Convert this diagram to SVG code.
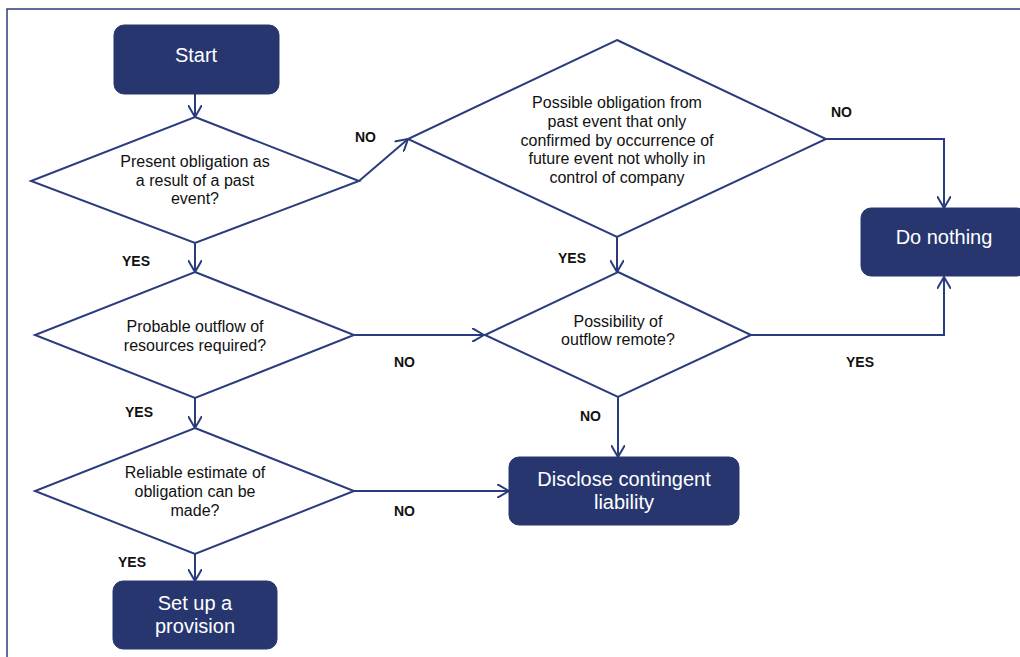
<svg xmlns="http://www.w3.org/2000/svg" width="1020" height="657" viewBox="0 0 1020 657">
<style>
.box{fill:#27366f;stroke:#27366f;stroke-width:1}
.dia{fill:#ffffff;stroke:#2b3c7e;stroke-width:2}
.wt{font-family:"Liberation Sans",Arial,sans-serif;font-size:20px;fill:#ffffff;text-anchor:middle}
.dt{font-family:"Liberation Sans",Arial,sans-serif;font-size:16px;fill:#111111;text-anchor:middle}
.lb{font-family:"Liberation Sans",Arial,sans-serif;font-size:14px;font-weight:bold;fill:#111111}
.ln{fill:none;stroke:#2b3c7e;stroke-width:2;marker-end:url(#ah)}
</style>
<defs>
<marker id="ah" viewBox="0 0 13 14" refX="12" refY="7" markerWidth="13" markerHeight="14" markerUnits="userSpaceOnUse" orient="auto">
<path d="M0,0 L12,7 L0,14" fill="none" stroke="#2b3c7e" stroke-width="2"/>
</marker>
</defs>
<rect width="1020" height="657" fill="#ffffff"/>
<rect x="7" y="9" width="1040" height="700" fill="none" stroke="#2b3c7e" stroke-width="1.5"/>

<g id="connectors">
<path class="ln" d="M195,94 L195,117"/>
<path class="ln" d="M359,181 L408,139"/>
<path class="ln" d="M195,243 L195,272"/>
<path class="ln" d="M617,237 L617,272"/>
<path class="ln" d="M826,139 L944,139 L944,208"/>
<path class="ln" d="M354,335 L484,335"/>
<path class="ln" d="M751,335 L944,335 L944,277"/>
<path class="ln" d="M618,397 L618,457"/>
<path class="ln" d="M195,398 L195,428"/>
<path class="ln" d="M354,491 L509,491"/>
<path class="ln" d="M195,554 L195,581"/>
</g>

<g id="labels">
<text class="lb" x="355" y="142">NO</text>
<text class="lb" x="831" y="117">NO</text>
<text class="lb" x="122" y="266">YES</text>
<text class="lb" x="558" y="263">YES</text>
<text class="lb" x="394" y="367">NO</text>
<text class="lb" x="846" y="367">YES</text>
<text class="lb" x="125" y="417">YES</text>
<text class="lb" x="580" y="421">NO</text>
<text class="lb" x="394" y="516">NO</text>
<text class="lb" x="118" y="567">YES</text>
</g>

<g id="start">
<rect class="box" x="114" y="25" width="165" height="69" rx="10"/>
<text class="wt" x="196" y="62">Start</text>
</g>

<g id="present-obligation">
<polygon class="dia" points="195,117 359,181 195,243 31,181"/>
<text class="dt" x="195" y="167">Present obligation as</text>
<text class="dt" x="195" y="186">a result of a past</text>
<text class="dt" x="195" y="204">event?</text>
</g>

<g id="possible-obligation">
<polygon class="dia" points="617,40 826,139 617,237 408,139"/>
<text class="dt" x="617" y="108">Possible obligation from</text>
<text class="dt" x="617" y="127">past event that only</text>
<text class="dt" x="617" y="146">confirmed by occurrence of</text>
<text class="dt" x="617" y="164">future event not wholly in</text>
<text class="dt" x="617" y="183">control of company</text>
</g>

<g id="do-nothing">
<rect class="box" x="861" y="208" width="166" height="68" rx="10"/>
<text class="wt" x="944" y="244">Do nothing</text>
</g>

<g id="probable-outflow">
<polygon class="dia" points="195,272 354,335 195,398 35,335"/>
<text class="dt" x="195" y="332">Probable outflow of</text>
<text class="dt" x="195" y="351">resources required?</text>
</g>

<g id="possibility-remote">
<polygon class="dia" points="618,272 751,335 618,397 485,335"/>
<text class="dt" x="618" y="327">Possibility of</text>
<text class="dt" x="618" y="345">outflow remote?</text>
</g>

<g id="reliable-estimate">
<polygon class="dia" points="195,428 354,491 195,554 35,491"/>
<text class="dt" x="195" y="478">Reliable estimate of</text>
<text class="dt" x="195" y="497">obligation can be</text>
<text class="dt" x="195" y="516">made?</text>
</g>

<g id="disclose">
<rect class="box" x="509" y="457" width="230" height="68" rx="10"/>
<text class="wt" x="624" y="486">Disclose contingent</text>
<text class="wt" x="624" y="509">liability</text>
</g>

<g id="provision">
<rect class="box" x="113" y="581" width="164" height="68" rx="10"/>
<text class="wt" x="195" y="610">Set up a</text>
<text class="wt" x="195" y="633">provision</text>
</g>
</svg>
